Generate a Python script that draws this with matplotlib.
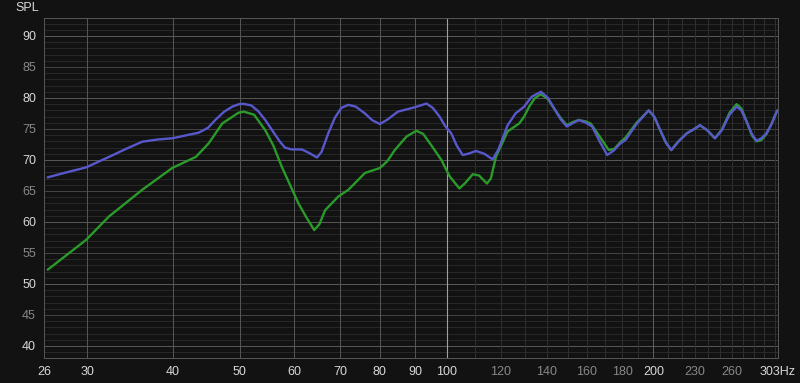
import numpy as np
import matplotlib
matplotlib.use("Agg")
import matplotlib.pyplot as plt

plt.rcParams['font.family'] = ['Liberation Sans', 'DejaVu Sans']

# frequency (Hz) / SPL (dB)
blue_f = [26.3, 28.0, 29.9, 32.3, 34.2, 36.1, 38.0, 39.9, 41.5, 43.6, 45.0, 46.1,
          47.5, 48.8, 49.9, 50.7, 52.0, 53.2, 54.5, 56.0, 57.2, 58.2, 59.5, 61.6,
          63.2, 64.8, 65.8, 67.3, 68.8, 70.3, 72.0, 73.8, 76.1, 78.0, 80.0, 82.0,
          85.0, 89.9, 93.5, 95.5, 97.7, 99.5, 101.6, 103.5, 105.6, 107.5, 110.4,
          113.5, 116.7, 119.0, 122.7, 126.0, 129.7, 133.0, 137.2, 140.5, 143.4,
          146.5, 149.6, 152.5, 155.8, 159.5, 162.9, 167.0, 171.3, 175.0, 179.1,
          182.1, 189.0, 196.8, 200.5, 204.6, 208.5, 212.3, 217.5, 223.6, 228.5,
          233.7, 239.5, 245.7, 251.5, 258.0, 264.2, 268.5, 273.1, 278.0, 282.4,
          287.0, 292.0, 297.0, 301.9, 303.0]
blue_db = [67.2, 68.0, 68.8, 70.5, 71.8, 72.95, 73.3, 73.5, 73.9, 74.4, 75.2, 76.45,
           77.8, 78.6, 79.0, 79.05, 78.8, 77.9, 76.45, 74.5, 73.0, 72.0, 71.7, 71.7,
           71.1, 70.4, 71.3, 74.3, 76.8, 78.4, 78.9, 78.6, 77.5, 76.4, 75.8, 76.5,
           77.8, 78.5, 79.1, 78.4, 77.0, 75.5, 74.3, 72.3, 70.8, 71.0, 71.45,
           71.0, 70.1, 71.7, 75.6, 77.5, 78.6, 80.2, 81.0, 80.0, 78.3,
           76.6, 75.4, 75.9, 76.45, 76.0, 75.4, 73.0, 70.8, 71.5, 72.7,
           73.2, 75.8, 78.0, 77.0, 74.8, 72.8, 71.6, 73.0, 74.3, 74.9,
           75.6, 74.8, 73.5, 74.8, 77.3, 78.6, 78.0, 76.2, 74.2, 73.1,
           73.5, 74.3, 75.8, 77.7, 78.0]

green_f = [26.3, 29.9, 32.3, 36.1, 39.9, 43.2, 45.1, 47.2, 49.8, 50.7, 52.5, 54.5,
           56.0, 57.6, 60.9, 62.5, 64.2, 65.3, 66.6, 69.6, 72.0, 76.1, 80.0, 82.0,
           84.1, 87.5, 90.4, 92.5, 95.0, 98.3, 101.0, 104.4, 106.5, 109.2, 111.5,
           114.5, 116.0, 118.0, 122.7, 127.6, 129.7, 131.9, 134.5, 137.2, 140.5,
           143.4, 146.5, 149.6, 152.5, 155.8, 159.5, 162.0, 166.5, 172.2, 175.5,
           179.1, 182.1, 189.0, 196.8, 200.5, 204.6, 208.5, 212.3, 217.5, 223.6,
           228.5, 233.7, 239.5, 245.7, 251.5, 258.0, 264.2, 268.5, 273.1, 278.0,
           282.4, 287.0, 292.0, 297.0, 301.9, 303.0]
green_db = [52.3, 57.1, 60.9, 65.2, 68.7, 70.5, 72.7, 75.9, 77.6, 77.8, 77.3, 74.8,
            72.3, 68.9, 63.0, 60.8, 58.7, 59.6, 61.9, 64.1, 65.2, 67.9, 68.7, 69.8,
            71.6, 73.8, 74.7, 74.2, 72.4, 70.0, 67.4, 65.4, 66.3, 67.7, 67.5,
            66.2, 67.0, 70.5, 74.6, 75.9, 77.0, 78.6, 80.0, 80.6, 79.8,
            78.3, 76.8, 75.6, 76.1, 76.45, 76.2, 75.9, 74.0, 71.6, 71.8,
            72.9, 73.6, 76.0, 78.0, 77.0, 74.8, 72.8, 71.6, 73.0, 74.3,
            74.9, 75.6, 74.8, 73.5, 74.9, 77.6, 79.0, 78.3, 76.3, 74.0,
            73.0, 73.2, 74.2, 75.8, 77.7, 78.0]

x_ticks = [26, 30, 40, 50, 60, 70, 80, 90, 100, 120, 140, 160, 180, 200, 230, 260, 303]
x_labels = ['26', '30', '40', '50', '60', '70', '80', '90', '100', '120', '140',
            '160', '180', '200', '230', '260', '303Hz']
x_dim = [120, 140, 160, 180, 230, 260]
y_ticks = list(range(40, 95, 5))

BG = '#121212'
fig = plt.figure(figsize=(8.0, 3.83), dpi=100, facecolor=BG)
ax = fig.add_axes([44.3 / 800, 25 / 383, (777.5 - 44.3) / 800, 340 / 383])
ax.set_facecolor(BG)
ax.set_xscale('log')
ax.set_xlim(26.25, 303)
ax.set_ylim(38.06, 92.9)

# grid: horizontal, 1 dB steps
for v in range(39, 93):
    if v % 10 == 0:
        c = '#565656'
    elif v % 5 == 0:
        c = '#424242'
    else:
        c = '#272727'
    ax.axhline(v, color=c, lw=0.72, zorder=1)

# grid: vertical
vlines = list(range(30, 100, 10)) + list(range(110, 310, 10))
for v in vlines:
    if v < 100:
        c = '#555555'
    elif v == 200:
        c = '#5e5e5e'
    else:
        c = '#2e2e2e'
    ax.axvline(v, color=c, lw=0.72, zorder=1)
ax.axvline(100, color='#a0a0a0', lw=0.8, zorder=1)

ax.plot(green_f, green_db, color='#2a9a2a', lw=1.7, zorder=3,
        solid_capstyle='round', solid_joinstyle='round')
ax.plot(blue_f, blue_db, color='#5858cc', lw=1.7, zorder=4,
        solid_capstyle='round', solid_joinstyle='round')

ax.set_xticks(x_ticks)
ax.set_xticklabels(x_labels)
ax.xaxis.set_minor_locator(matplotlib.ticker.NullLocator())
ax.set_yticks(y_ticks)
ax.tick_params(length=0, labelsize=9, pad=6)
for t, v in zip(ax.get_xticklabels(), x_ticks):
    t.set_color('#888888' if v in x_dim else '#d8d8d8')
for t, v in zip(ax.get_yticklabels(), y_ticks):
    t.set_color('#d8d8d8' if v % 10 == 0 else '#888888')

for s in ax.spines.values():
    s.set_color('#555555')
    s.set_linewidth(0.72)

fig.text(15 / 800, 1 - 8 / 383, 'SPL', color='#d8d8d8', fontsize=9, va='center', ha='left')

fig.savefig('out.png', dpi=100, facecolor=BG)
